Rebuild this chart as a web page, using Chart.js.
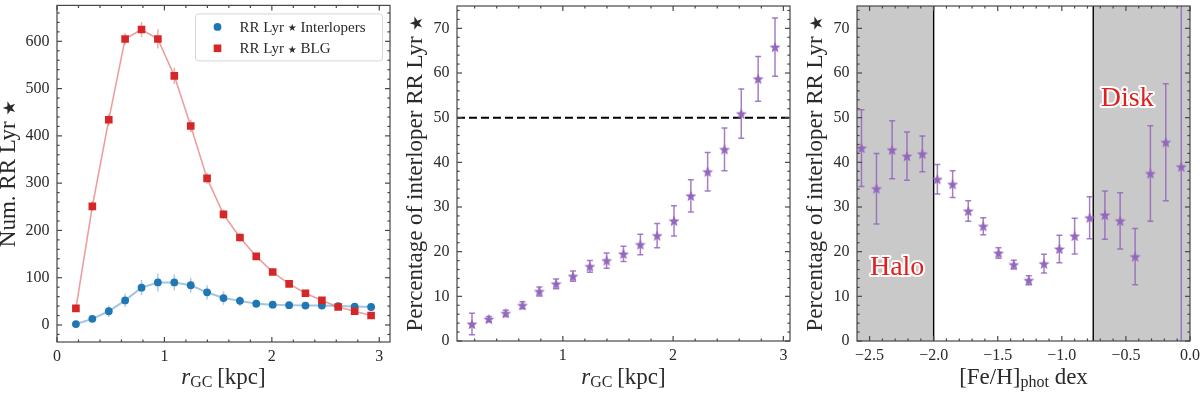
<!DOCTYPE html>
<html><head><meta charset="utf-8">
<script src="https://cdn.jsdelivr.net/npm/chart.js@4.4.1/dist/chart.umd.min.js"></script>
<style>
html,body{margin:0;padding:0;background:#fff;}
#wrap{position:relative;width:1200px;height:393px;overflow:hidden;}
canvas{position:absolute;top:0;}
</style>
</head><body>
<div id="wrap">
<canvas id="c1" width="400" height="393" style="left:0px"></canvas>
<canvas id="c2" width="400" height="393" style="left:400px"></canvas>
<canvas id="c3" width="400" height="393" style="left:800px"></canvas>
</div>
<script>
// ---------------- DATA ----------------
const rBins = [0.176, 0.329, 0.482, 0.634, 0.787, 0.939, 1.092, 1.245, 1.397, 1.550, 1.703, 1.855, 2.008, 2.161, 2.313, 2.466, 2.618, 2.771, 2.924];
const blgCounts = [35, 251, 434, 605, 625, 605, 527, 421, 310, 234, 185, 145, 112, 87, 67, 52, 38, 29, 20];
const blgErr    = [4, 10, 12, 12, 16, 20, 17, 13, 11, 10, 9, 8, 6, 5, 4, 4, 3, 3, 2];
const interCounts = [2, 13, 29, 52, 79, 90, 90, 84, 69, 57, 51, 45, 43, 42, 41, 41, 40, 39, 38];
const interErr    = [1, 3, 12, 14, 16, 19, 17, 16, 15, 14, 11, 9, 8, 7, 6, 6, 5, 5, 5];
const pctInterR = [3.8, 4.9, 6.2, 8.0, 11.1, 12.8, 14.5, 16.7, 18.0, 19.5, 21.6, 23.6, 26.9, 32.5, 37.9, 42.9, 50.9, 58.7, 65.8];
const pctInterRErr = [2.4, 0.6, 0.7, 0.8, 1.0, 1.1, 1.15, 1.3, 1.7, 1.7, 2.3, 2.7, 3.4, 3.6, 4.3, 4.8, 5.5, 5.0, 6.5];
const fehBins = [-2.563, -2.446, -2.324, -2.208, -2.088, -1.971, -1.852, -1.730, -1.613, -1.494, -1.375, -1.258, -1.139, -1.019, -0.900, -0.783, -0.664, -0.545, -0.428, -0.309, -0.189, -0.068];
const pctInterFeh = [43.2, 34.1, 42.8, 41.4, 41.9, 36.2, 35.1, 29.1, 25.7, 19.7, 17.1, 13.6, 17.3, 20.6, 23.5, 27.6, 28.2, 26.9, 18.9, 37.5, 44.5, 39.0];
const pctInterFehErr = [8.6, 7.9, 6.5, 5.4, 4.0, 3.3, 3.0, 2.3, 1.9, 1.2, 1.0, 1.0, 2.1, 3.1, 4.0, 4.7, 5.4, 6.3, 6.3, 10.7, 13.1, 40];
const halfLine = [50];
const regionEdges = [-2.0, -0.755];
const regionLabels = [{text: 'Halo', x: -2.285, y: 16.5}, {text: 'Disk', x: -0.49, y: 54.3}];

const rTicks1 = [0, 1, 2, 3];
const rTicks2 = [1, 2, 3];
const countTicks = [0, 100, 200, 300, 400, 500, 600];
const pctTicks = [0, 10, 20, 30, 40, 50, 60, 70];
const fehTicks = [-2.5, -2.0, -1.5, -1.0, -0.5, 0.0];

const seriesNames = ['RR Lyr \u2605 Interlopers', 'RR Lyr \u2605 BLG'];
const yTitle1 = 'Num. RR Lyr \u2605';
const yTitle23 = 'Percentage of interloper RR Lyr \u2605';

// ---------------- STYLE ----------------
const SERIF = "'Liberation Serif', 'DejaVu Serif', serif";
const STARFONT = "'DejaVu Sans', sans-serif";
const TEXT = '#2a2a2a';
const FRAME = '#474747';
const BLUE = '#1f77b4', RED = '#d62728', PURPLE = '#9467bd';

function makeStar(R, color) {
  const s = Math.ceil(2 * R + 2);
  const c = document.createElement('canvas');
  c.width = s; c.height = s;
  const g = c.getContext('2d');
  const cx = s / 2, cy = s / 2 + R * 0.08;
  g.beginPath();
  for (let k = 0; k < 10; k++) {
    const r = (k % 2) ? R * 0.43 : R;
    const a = -Math.PI / 2 + k * Math.PI / 5;
    g.lineTo(cx + r * Math.cos(a), cy + r * Math.sin(a));
  }
  g.closePath();
  g.fillStyle = color; g.fill();
  return c;
}
const starImg = makeStar(5.8, PURPLE);

function splitStar(text, mainFont, starFont, starDy) {
  const out = [];
  text.split('\u2605').forEach((seg, i, arr) => {
    if (seg) out.push({text: seg, font: mainFont});
    if (i < arr.length - 1) out.push({text: '\u2605', font: starFont, dy: starDy || 0});
  });
  return out;
}

// ---------------- PLUGINS ----------------
const frameTicks = {
  id: 'frameTicks',
  afterDraw(chart, args, opts) {
    const {ctx, chartArea: {left, right, top, bottom}, scales: {x, y}} = chart;
    ctx.save();
    ctx.strokeStyle = FRAME; ctx.lineWidth = 1.2;
    const majL = 5, minL = 2.6;
    const line = (x1, y1, x2, y2) => { ctx.beginPath(); ctx.moveTo(x1, y1); ctx.lineTo(x2, y2); ctx.stroke(); };
    const xMaj = x.ticks.map(t => t.value), yMaj = y.ticks.map(t => t.value);
    const near = (arr, v, s) => arr.some(m => Math.abs(m - v) < s * 0.01);
    const xs = opts.xMinor, ys = opts.yMinor;
    for (let k = Math.ceil(x.min / xs - 1e-9); k <= Math.floor(x.max / xs + 1e-9); k++) {
      const v = k * xs; if (near(xMaj, v, xs)) continue;
      const p = x.getPixelForValue(v);
      line(p, bottom, p, bottom - minL); line(p, top, p, top + minL);
    }
    for (let k = Math.ceil(y.min / ys - 1e-9); k <= Math.floor(y.max / ys + 1e-9); k++) {
      const v = k * ys; if (near(yMaj, v, ys)) continue;
      const p = y.getPixelForValue(v);
      line(left, p, left + minL, p); line(right, p, right - minL, p);
    }
    xMaj.forEach(v => { const p = x.getPixelForValue(v); line(p, bottom, p, bottom - majL); line(p, top, p, top + majL); });
    yMaj.forEach(v => { const p = y.getPixelForValue(v); line(left, p, left + majL, p); line(right, p, right - majL, p); });
    ctx.strokeRect(left, top, right - left, bottom - top);
    ctx.restore();
  }
};

const errorBars = {
  id: 'errorBars',
  beforeDatasetsDraw(chart) {
    const {ctx, chartArea: ca} = chart;
    ctx.save();
    ctx.beginPath(); ctx.rect(ca.left, ca.top, ca.right - ca.left, ca.bottom - ca.top); ctx.clip();
    chart.data.datasets.forEach((ds, di) => {
      if (!ds.errors) return;
      const meta = chart.getDatasetMeta(di);
      const xs = chart.scales[meta.xAxisID], ys = chart.scales[meta.yAxisID];
      ctx.strokeStyle = ds.errorColor; ctx.lineWidth = ds.errorWidth;
      ds.data.forEach((d, i) => {
        const e = ds.errors[i];
        const px = xs.getPixelForValue(d.x);
        const y1 = Math.min(ys.getPixelForValue(d.y - e), ca.bottom + 5);
        const y2 = Math.max(ys.getPixelForValue(d.y + e), ca.top - 5);
        ctx.beginPath(); ctx.moveTo(px, y1); ctx.lineTo(px, y2); ctx.stroke();
        if (ds.capSize) {
          const c = ds.capSize;
          ctx.beginPath(); ctx.moveTo(px - c, y1); ctx.lineTo(px + c, y1);
          ctx.moveTo(px - c, y2); ctx.lineTo(px + c, y2); ctx.stroke();
        }
      });
    });
    ctx.restore();
  }
};

function drawParts(ctx, parts, x0, baseline, align) {
  let total = 0;
  parts.forEach(p => { ctx.font = p.font; p.w = ctx.measureText(p.text).width; total += p.w; });
  let x = align === 'left' ? x0 : x0 - total / 2;
  ctx.textAlign = 'left'; ctx.textBaseline = 'alphabetic';
  parts.forEach(p => { ctx.font = p.font; ctx.fillText(p.text, x, baseline + (p.dy || 0)); x += p.w; });
}

const axisTitles = {
  id: 'axisTitles',
  afterDraw(chart, args, opts) {
    const {ctx, chartArea: ca} = chart;
    ctx.save();
    ctx.fillStyle = TEXT;
    drawParts(ctx, opts.xParts, (ca.left + ca.right) / 2, opts.xBase);
    ctx.translate(opts.yBase, (ca.top + ca.bottom) / 2);
    ctx.rotate(-Math.PI / 2);
    drawParts(ctx, splitStar(opts.yText, '23px ' + SERIF, '17px ' + STARFONT, 0), 0, 0);
    ctx.restore();
  }
};

const legendBox = {
  id: 'legendBox',
  afterDatasetsDraw(chart) {
    const {ctx, chartArea: ca} = chart;
    const bx = ca.right - 195, by = ca.top + 8, bw = 187, bh = 47;
    ctx.save();
    ctx.beginPath();
    ctx.roundRect(bx + 0.5, by + 0.5, bw, bh, 3);
    ctx.fillStyle = 'rgba(255,255,255,0.85)'; ctx.fill();
    ctx.strokeStyle = '#d6d6d6'; ctx.lineWidth = 1; ctx.stroke();
    const items = [chart.data.datasets[1], chart.data.datasets[0]];
    items.forEach((ds, i) => {
      const cy = by + 13.5 + i * 21.4;
      const mx = bx + 22.5;
      ctx.fillStyle = ds.pointBackgroundColor; ctx.strokeStyle = ds.pointBackgroundColor;
      Chart.helpers.drawPoint(ctx, {pointStyle: ds.pointStyle, radius: ds.pointRadius, rotation: 0, borderWidth: 0}, mx, cy);
      ctx.fillStyle = TEXT;
      drawParts(ctx, splitStar(ds.label, '15px ' + SERIF, '10px ' + STARFONT, -0.5), bx + 44.5, cy + 5, 'left');
    });
    ctx.restore();
  }
};

const hLine = {
  id: 'hLine',
  beforeDatasetsDraw(chart) {
    const {ctx, chartArea: ca, scales: {y}} = chart;
    ctx.save();
    ctx.strokeStyle = '#000'; ctx.lineWidth = 2; ctx.setLineDash([8, 4]);
    halfLine.forEach(v => {
      const p = y.getPixelForValue(v);
      ctx.beginPath(); ctx.moveTo(ca.left, p); ctx.lineTo(ca.right, p); ctx.stroke();
    });
    ctx.restore();
  }
};

const regions = {
  id: 'regions',
  beforeDatasetsDraw(chart) {
    const {ctx, chartArea: ca, scales: {x}} = chart;
    const a = x.getPixelForValue(regionEdges[0]), b = x.getPixelForValue(regionEdges[1]);
    ctx.save();
    ctx.fillStyle = '#c9c9c9';
    ctx.fillRect(ca.left, ca.top, a - ca.left, ca.bottom - ca.top);
    ctx.fillRect(b, ca.top, ca.right - b, ca.bottom - ca.top);
    ctx.strokeStyle = '#000'; ctx.lineWidth = 1.4;
    [a, b].forEach(p => { ctx.beginPath(); ctx.moveTo(p, ca.top); ctx.lineTo(p, ca.bottom); ctx.stroke(); });
    ctx.restore();
  },
  afterDatasetsDraw(chart) {
    const {ctx, scales: {x, y}} = chart;
    ctx.save();
    ctx.font = '28px ' + SERIF;
    ctx.textAlign = 'center'; ctx.textBaseline = 'middle';
    ctx.lineJoin = 'round';
    regionLabels.forEach(l => {
      const px = x.getPixelForValue(l.x), py = y.getPixelForValue(l.y);
      ctx.strokeStyle = '#fff'; ctx.lineWidth = 4; ctx.strokeText(l.text, px, py);
      ctx.fillStyle = '#e0201f'; ctx.fillText(l.text, px, py);
    });
    ctx.restore();
  }
};

// ---------------- OPTIONS ----------------
const minusFmt = v => (v < 0 ? '\u2212' : '') + Math.abs(v).toFixed(1);
function baseOptions(c) {
  const tickFont = {family: SERIF, size: 16};
  return {
    responsive: false, animation: false, devicePixelRatio: 1,
    layout: {padding: {top: 3, right: 10, left: 0, bottom: 0}},
    plugins: {
      legend: {display: false}, tooltip: {enabled: false},
      frameTicks: {xMinor: c.xMinor, yMinor: c.yMinor},
      axisTitles: {xParts: c.xParts, xBase: 383.5, yText: c.yText, yBase: c.yBase}
    },
    scales: {
      x: {
        type: 'linear', min: c.xMin, max: c.xMax,
        grid: {display: false, drawTicks: false}, border: {display: false},
        ticks: {autoSkip: false, maxRotation: 0, padding: 5, font: tickFont, color: TEXT, callback: c.xFmt},
        afterBuildTicks: s => { s.ticks = c.xTicks.map(v => ({value: v})); },
        afterFit: s => { s.height = c.bottomH; s.paddingLeft = 0; s.paddingRight = 0; }
      },
      y: {
        type: 'linear', min: c.yMin, max: c.yMax,
        grid: {display: false, drawTicks: false}, border: {display: false},
        ticks: {autoSkip: false, padding: 7.5, font: tickFont, color: TEXT, callback: v => String(v)},
        afterBuildTicks: s => { s.ticks = c.yTicks.map(v => ({value: v})); },
        afterFit: s => { s.width = 57; s.paddingTop = 0; s.paddingBottom = 0; }
      }
    }
  };
}

const rTitle = [
  {text: 'r', font: 'italic 23px ' + SERIF},
  {text: 'GC', font: '16px ' + SERIF, dy: 3},
  {text: '\u2009[kpc]', font: '23px ' + SERIF}
];
const fehTitle = [
  {text: '[Fe/H]', font: '23px ' + SERIF},
  {text: 'phot', font: '16px ' + SERIF, dy: 3.5},
  {text: ' dex', font: '23px ' + SERIF}
];

// Panel 1
new Chart(document.getElementById('c1'), {
  type: 'scatter',
  data: {
    datasets: [
      {label: seriesNames[1], data: rBins.map((x, i) => ({x, y: blgCounts[i]})), errors: blgErr,
       errorColor: 'rgba(214,39,40,0.4)', errorWidth: 1.5,
       showLine: true, borderColor: 'rgba(214,39,40,0.45)', borderWidth: 1.6,
       pointStyle: 'rect', pointRadius: 5.4, pointBackgroundColor: RED, pointBorderWidth: 0, order: 0},
      {label: seriesNames[0], data: rBins.map((x, i) => ({x, y: interCounts[i]})), errors: interErr,
       errorColor: 'rgba(31,119,180,0.38)', errorWidth: 1.5,
       showLine: true, borderColor: 'rgba(31,119,180,0.42)', borderWidth: 2,
       pointStyle: 'circle', pointRadius: 3.9, pointBackgroundColor: BLUE, pointBorderWidth: 0, order: 1}
    ]
  },
  options: baseOptions({xMin: 0, xMax: 3.1, yMin: -36, yMax: 676, xTicks: rTicks1, yTicks: countTicks,
    xFmt: v => String(v), xMinor: 0.2, yMinor: 20, bottomH: 51,
    xParts: rTitle, yText: yTitle1, yBase: 14.5}),
  plugins: [errorBars, legendBox, frameTicks, axisTitles]
});

// Panel 2
new Chart(document.getElementById('c2'), {
  type: 'scatter',
  data: {
    datasets: [
      {label: 'pct', data: rBins.map((x, i) => ({x, y: pctInterR[i]})), errors: pctInterRErr,
       errorColor: 'rgba(148,103,189,0.85)', errorWidth: 1.5, capSize: 3,
       pointStyle: starImg, pointRadius: 5, pointBackgroundColor: PURPLE}
    ]
  },
  options: baseOptions({xMin: 0.04, xMax: 3.06, yMin: 0, yMax: 75, xTicks: rTicks2, yTicks: pctTicks,
    xFmt: v => String(v), xMinor: 0.2, yMinor: 2, bottomH: 52,
    xParts: rTitle, yText: yTitle23, yBase: 21.5}),
  plugins: [hLine, errorBars, frameTicks, axisTitles]
});

// Panel 3
new Chart(document.getElementById('c3'), {
  type: 'scatter',
  data: {
    datasets: [
      {label: 'pctFeh', data: fehBins.map((x, i) => ({x, y: pctInterFeh[i]})), errors: pctInterFehErr,
       errorColor: 'rgba(148,103,189,0.85)', errorWidth: 1.5, capSize: 3,
       pointStyle: starImg, pointRadius: 5, pointBackgroundColor: PURPLE}
    ]
  },
  options: baseOptions({xMin: -2.598, xMax: 0.0, yMin: 0, yMax: 75, xTicks: fehTicks, yTicks: pctTicks,
    xFmt: minusFmt, xMinor: 0.1, yMinor: 2, bottomH: 52,
    xParts: fehTitle, yText: yTitle23, yBase: 21.5}),
  plugins: [regions, errorBars, frameTicks, axisTitles]
});
</script>
</body></html>
